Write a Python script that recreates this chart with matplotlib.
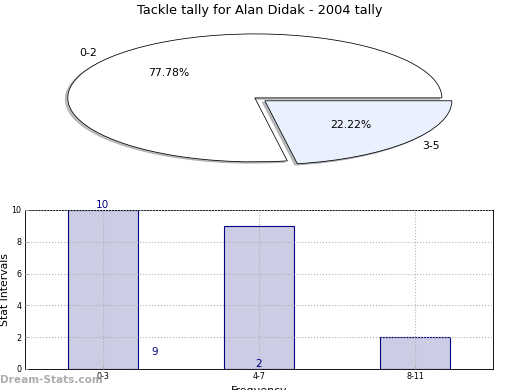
import matplotlib.pyplot as plt
import numpy as np

# pie data
pie_labels = ["0-2", "3-5"]
pie_values = [77.78, 22.22]
pie_colors = ["#ffffff", "#eaf0fd"]

# bar data
bar_labels = ["0-3", "4-7", "8-11"]
bar_values = [10, 9, 2]


def main():
    fig = plt.figure(figsize=(6.5, 4.875), dpi=80)

    # top: stretched exploded pie
    ax1 = fig.add_axes([0.04, 0.544, 0.9, 0.41])
    ax1.pie(pie_values, labels=pie_labels, colors=pie_colors,
            autopct="%.2f%%", explode=[0, 0.07], startangle=0,
            shadow={"ox": -0.012, "oy": -0.02, "shade": 0.5},
            wedgeprops={"edgecolor": "black", "linewidth": 0.7},
            textprops={"fontsize": 9.8})
    ax1.set_aspect("auto")
    ax1.set_xlim(-1.251, 1.251)
    ax1.set_ylim(-1.25, 1.25)
    ax1.axis("off")
    fig.text(0.5, 0.972, "Tackle tally for Alan Didak - 2004 tally",
             ha="center", va="center", fontsize=11.6)

    # bottom: bar chart
    ax2 = fig.add_axes([0.048, 0.054, 0.9, 0.4077])
    x = np.arange(len(bar_values))
    ax2.bar(x, bar_values, width=0.45, color="#ccccE4", edgecolor="#000080",
            linewidth=1, zorder=1)
    ax2.set_xlim(-0.5, 2.5)
    ax2.set_ylim(0, 10)
    ax2.set_xticks(x)
    ax2.set_xticklabels(bar_labels)
    ax2.set_yticks(range(0, 11, 2))
    ax2.tick_params(labelsize=7.2, direction="in", color="#aaaaaa",
                    length=3, pad=3)
    ax2.grid(True, linestyle=":", color="#b0b0b0", linewidth=1, zorder=2)
    ax2.set_axisbelow(False)
    ax2.set_xlabel("Frequency", fontsize=9.8, labelpad=4)
    ax2.set_ylabel("Stat Intervals", fontsize=9.8)
    ax2.yaxis.set_label_coords(-0.031, 0.5)

    # value labels (placed as in the original)
    label_pos = [(0, 10), (1 / 3, 0.75), (1, 0)]
    for (px, py), v in zip(label_pos, bar_values):
        ax2.text(px, py, str(v), ha="center", va="bottom", fontsize=9.5,
                 color="#000080", clip_on=False)

    fig.text(0.0, 0.025, "Dream-Stats.com", fontsize=9.5, color="#999999",
             ha="left", va="center", fontweight="bold", alpha=0.8)

    fig.savefig("out.png", dpi=80)


if __name__ == "__main__":
    main()
